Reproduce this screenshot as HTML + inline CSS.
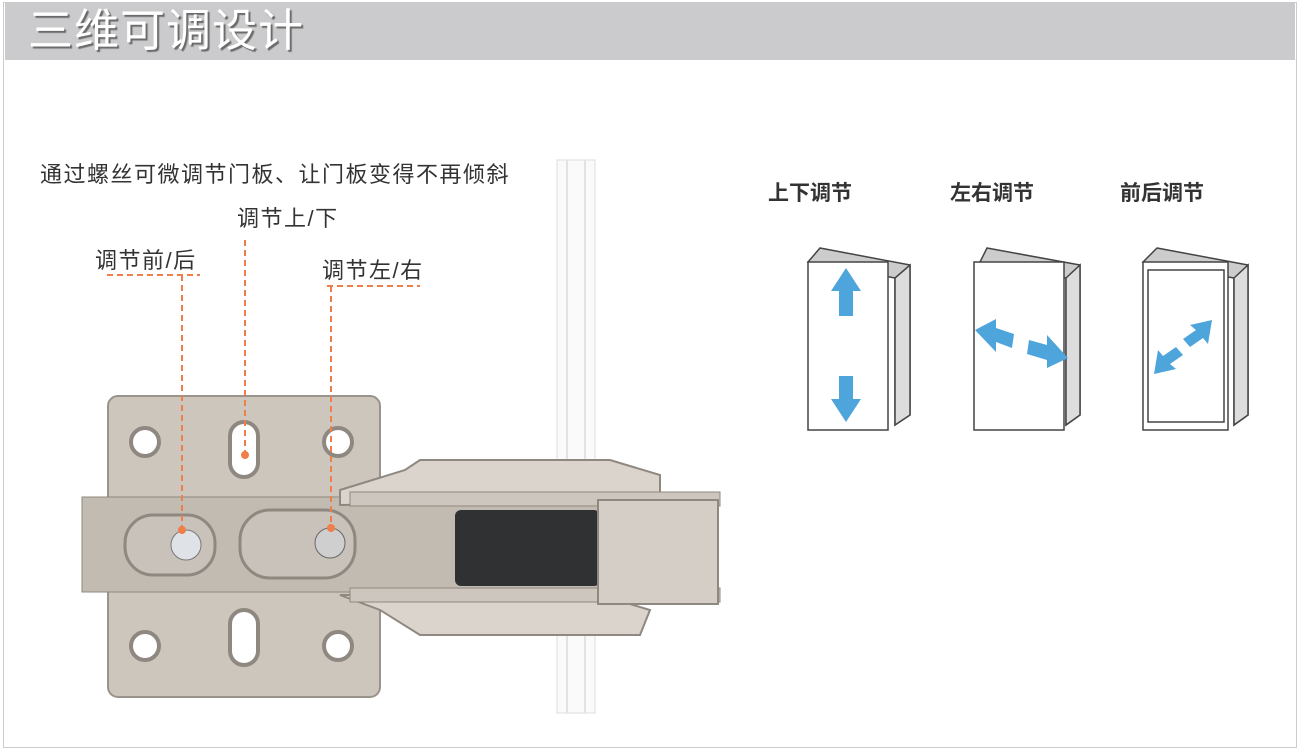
<!DOCTYPE html>
<html><head><meta charset="utf-8"><style>
body{margin:0;width:1300px;height:749px;background:#fff;overflow:hidden;position:relative;font-family:"Liberation Sans","Noto Sans CJK SC",sans-serif}
.frame{position:absolute;left:3px;top:2px;width:1292px;height:744px;border:1px solid #ccc}
.hdr{position:absolute;left:5px;top:3px;width:1290px;height:57px;background:#cbcbcd}
.title{position:absolute;left:28px;top:5px;font-size:45px;color:#fff;text-shadow:2px 2px 1px #6a6a6a;letter-spacing:1px;line-height:52px}
.t{position:absolute;color:#333;font-size:22px;letter-spacing:1.5px;white-space:nowrap;line-height:26px}
.b{font-weight:bold;font-size:21px;letter-spacing:0}
</style></head><body>
<div class="frame"></div>
<div class="hdr"></div>
<div class="title">三维可调设计</div>
<div class="t" style="left:40px;top:162px">通过螺丝可微调节门板、让门板变得不再倾斜</div>
<div class="t" style="left:237px;top:206px">调节上/下</div>
<div class="t" style="left:95px;top:248px">调节前/后</div>
<div class="t" style="left:322px;top:258px">调节左/右</div>
<div class="t b" style="left:768px;top:181px">上下调节</div>
<div class="t b" style="left:950px;top:181px">左右调节</div>
<div class="t b" style="left:1120px;top:181px">前后调节</div>
<svg width="1300" height="749" style="position:absolute;left:0;top:0">
<!-- rod -->
<rect x="557" y="160" width="38" height="553" fill="#fafafa" stroke="#ddd"/>
<rect x="566" y="160" width="2" height="553" fill="#e2e2e2"/>
<rect x="584" y="160" width="2" height="553" fill="#e2e2e2"/>
<!-- plate -->
<rect x="108" y="396" width="272" height="301" rx="10" fill="#cdc6bd" stroke="#9a938b" stroke-width="2"/>
<rect x="82" y="497" width="540" height="95" fill="#c2bbb2" stroke="#8f8880"/>
<ellipse cx="145" cy="442" rx="14" ry="14" fill="#fff" stroke="#8f8880" stroke-width="4"/>
<ellipse cx="338" cy="442" rx="14" ry="14" fill="#fff" stroke="#8f8880" stroke-width="4"/>
<ellipse cx="145" cy="646" rx="14" ry="14" fill="#fff" stroke="#8f8880" stroke-width="4"/>
<ellipse cx="338" cy="646" rx="14" ry="14" fill="#fff" stroke="#8f8880" stroke-width="4"/>
<rect x="230" y="422" width="28" height="55" rx="14" fill="#fff" stroke="#8f8880" stroke-width="4"/>
<rect x="230" y="610" width="28" height="55" rx="14" fill="#fff" stroke="#8f8880" stroke-width="4"/>
<rect x="125" y="515" width="90" height="60" rx="28" fill="#c9c2ba" stroke="#8f8880" stroke-width="3"/>
<rect x="240" y="510" width="115" height="68" rx="30" fill="#c9c2ba" stroke="#8f8880" stroke-width="3"/>
<circle cx="186" cy="545" r="15" fill="#dfe2e6" stroke="#777"/>
<circle cx="330" cy="543" r="15" fill="#cfcfcf" stroke="#666"/>
<!-- arm -->
<path d="M340 490 L405 470 L420 460 L610 460 L660 475 L660 500 L340 505Z" fill="#dad4cd" stroke="#8f8880" stroke-width="2"/>
<path d="M340 595 L600 595 L650 610 L640 635 L420 635 L380 610Z" fill="#dad4cd" stroke="#8f8880" stroke-width="2"/>
<rect x="350" y="492" width="370" height="14" fill="#cdc6be" stroke="#8f8880"/>
<rect x="350" y="588" width="370" height="14" fill="#cdc6be" stroke="#8f8880"/>
<rect x="455" y="510" width="145" height="76" rx="6" fill="#2f3133"/>
<rect x="598" y="500" width="120" height="104" fill="#d4cec7" stroke="#8f8880" stroke-width="2"/>
<!-- dashed callouts -->
<g stroke="#ef7f4a" stroke-width="2" stroke-dasharray="6,4" fill="none">
<path d="M107 275 H200 M182 275 V528"/>
<path d="M245 240 V455"/>
<path d="M327 286 H420 M331 286 V526"/>
</g>
<g fill="#ef7f4a"><circle cx="182" cy="530" r="4"/><circle cx="245" cy="455" r="4"/><circle cx="331" cy="528" r="4"/></g>
<!-- door 1 -->
<g stroke="#444" stroke-width="1.5">
<path d="M820 248 L910 265 L910 415 L895 425 L895 278 L808 262Z" fill="#ccc"/>
<rect x="808" y="262" width="80" height="168" fill="#fff"/>
<path d="M895 278 L910 265 L910 415 L895 425Z" fill="#ddd"/>
</g>
<path d="M846 268 L861 291 L853 291 L853 316 L839 316 L839 291 L831 291Z" fill="#4ea5dc"/>
<path d="M846 422 L861 399 L853 399 L853 376 L839 376 L839 399 L831 399Z" fill="#4ea5dc"/>
<!-- door 2 -->
<g stroke="#444" stroke-width="1.5">
<path d="M987 248 L1080 265 L1080 415 L1066 425 L1066 278 L980 262Z" fill="#ccc"/>
<rect x="974" y="262" width="90" height="168" fill="#fff"/>
<path d="M1066 278 L1080 265 L1080 415 L1066 425Z" fill="#ddd"/>
</g>
<path d="M975 330 L996 319 L996 328 L1014 334 L1012 348 L996 342 L996 352Z" fill="#4ea5dc"/>
<path d="M1068 358 L1047 368 L1047 360 L1027 354 L1029 340 L1047 345 L1047 335Z" fill="#4ea5dc"/>
<!-- door 3 -->
<g stroke="#444" stroke-width="1.5">
<path d="M1157 248 L1248 265 L1248 415 L1234 425 L1234 278 L1143 262Z" fill="#ccc"/>
<rect x="1143" y="262" width="85" height="168" fill="#fff"/>
<rect x="1148" y="270" width="76" height="152" fill="none"/>
<path d="M1234 278 L1248 265 L1248 415 L1234 425Z" fill="#ddd"/>
</g>
<path d="M1212 320 L1208 344 L1203 338 L1190 347 L1183 339 L1196 330 L1190 325Z" fill="#4ea5dc"/>
<path d="M1154 374 L1158 350 L1163 356 L1176 347 L1183 355 L1170 364 L1176 369Z" fill="#4ea5dc"/>
</svg>
</body></html>
